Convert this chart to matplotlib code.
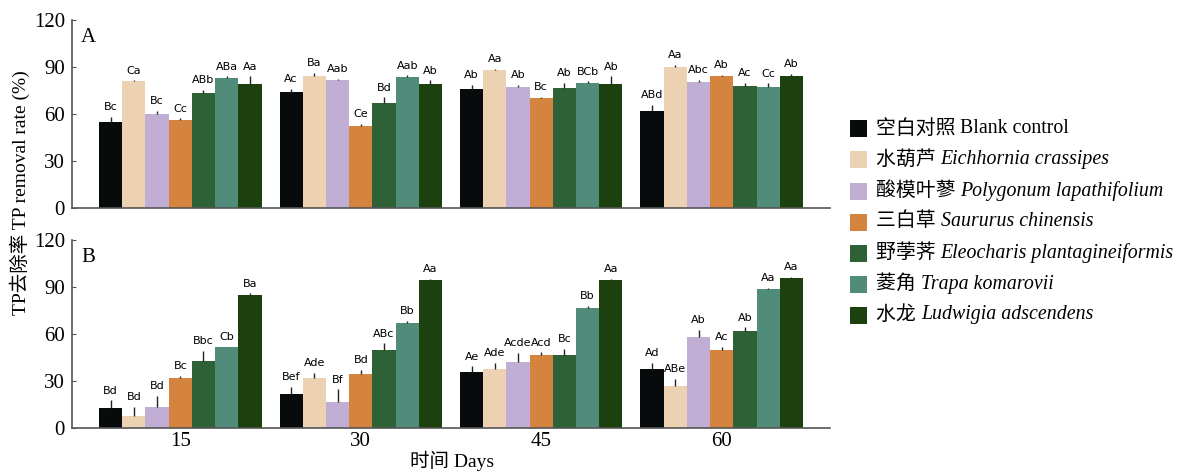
import numpy as np
import matplotlib
matplotlib.use("Agg")
import matplotlib.pyplot as plt
from matplotlib.patches import Rectangle

plt.rcParams['font.family'] = ['Liberation Serif', 'Noto Sans CJK SC', 'DejaVu Sans']

days = ["15", "30", "45", "60"]
cn_names = ["空白对照", "水葫芦", "酸模叶蓼", "三白草", "野荸荠", "菱角", "水龙"]
latin_names = ["Blank control", "Eichhornia crassipes", "Polygonum lapathifolium",
               "Saururus chinensis", "Eleocharis plantagineiformis", "Trapa komarovii",
               "Ludwigia adscendens"]
colors = ["#070b0c", "#ecd2b2", "#c0aed4", "#d4843e", "#2e6136", "#518b79", "#1d410e"]

# panel A: rows = treatments, columns = days
tp_a = [[55.2, 73.8, 76.1, 61.8],
        [80.9, 84.5, 87.9, 90.3],
        [59.9, 81.5, 77.4, 80.2],
        [56.3, 52.6, 70.4, 84.1],
        [73.4, 67.0, 76.8, 77.6],
        [83.0, 83.6, 79.6, 77.4],
        [79.4, 78.9, 79.4, 84.5]]
err_a = [[3.0, 2.4, 2.4, 3.9],
         [0.5, 1.7, 0.9, 0.9],
         [2.0, 1.0, 1.3, 1.7],
         [1.0, 1.0, 0.6, 0.9],
         [2.0, 3.6, 3.0, 2.1],
         [1.0, 1.0, 1.3, 2.1],
         [4.7, 2.6, 4.7, 1.3]]
lab_a = [["Bc", "Ac", "Ab", "ABd"],
         ["Ca", "Ba", "Aa", "Aa"],
         ["Bc", "Aab", "Ab", "Abc"],
         ["Cc", "Ce", "Bc", "Ab"],
         ["ABb", "Bd", "Ab", "Ac"],
         ["ABa", "Aab", "BCb", "Cc"],
         ["Aa", "Ab", "Ab", "Ab"]]

# panel B
tp_b = [[12.6, 21.9, 36.0, 37.9],
        [7.5, 32.1, 37.5, 26.6],
        [13.1, 16.3, 42.2, 58.3],
        [31.7, 34.3, 46.5, 49.7],
        [42.9, 49.7, 46.5, 61.7],
        [51.4, 66.9, 76.9, 88.7],
        [84.9, 94.7, 94.7, 96.0]]
err_b = [[5.1, 4.3, 3.4, 3.6],
         [5.8, 3.2, 4.3, 4.7],
         [7.3, 8.4, 5.8, 4.3],
         [1.7, 2.6, 1.7, 1.9],
         [6.2, 4.3, 4.1, 2.6],
         [0.6, 1.5, 0.9, 0.6],
         [1.0, 0.4, 0.6, 0.6]]
lab_b = [["Bd", "Bef", "Ae", "Ad"],
         ["Bd", "Ade", "Ade", "ABe"],
         ["Bd", "Bf", "Acde", "Ab"],
         ["Bc", "Bd", "Acd", "Ac"],
         ["Bbc", "ABc", "Bc", "Ab"],
         ["Cb", "Bb", "Bb", "Aa"],
         ["Ba", "Aa", "Aa", "Aa"]]

fig = plt.figure(figsize=(11.82, 4.71), dpi=100)
W, H = 1182, 471
ax_a = fig.add_axes([72 / W, 1 - 208 / H, (830 - 72) / W, 188 / H])
ax_b = fig.add_axes([72 / W, 1 - 428 / H, (830 - 72) / W, 188 / H])

x = np.arange(len(days))
width = 0.9 / 7


def draw_panel(ax, vals, errs, labels, tag, show_x):
    for i in range(7):
        pos = x + (i - 3) * width
        ax.bar(pos, vals[i], width, color=colors[i], edgecolor='none', zorder=2)
        ax.errorbar(pos, vals[i], yerr=[np.zeros(4), errs[i]], fmt='none',
                    ecolor='#222222', elinewidth=1.0, capsize=0, zorder=3)
        for j in range(4):
            ax.text(pos[j], vals[i][j] + errs[i][j] + 3.0, labels[i][j],
                    ha='center', va='bottom', fontsize=8, family='DejaVu Sans')
    ax.set_xlim(-0.6, 3.6)
    ax.set_ylim(0, 120)
    ax.set_yticks([0, 30, 60, 90, 120])
    ax.tick_params(axis='y', direction='in', length=3, labelsize=15, color='#555555', pad=5)
    ax.tick_params(axis='x', length=0, labelsize=15, pad=3)
    ax.set_xticks(x)
    if show_x:
        ax.set_xticklabels(days)
    else:
        ax.set_xticklabels([])
    for s in ['top', 'right']:
        ax.spines[s].set_visible(False)
    for s in ['left', 'bottom']:
        ax.spines[s].set_color('#555555')
        ax.spines[s].set_linewidth(1.2)
    ax.text(0.012, 0.96, tag, transform=ax.transAxes, ha='left', va='top', fontsize=15)


draw_panel(ax_a, tp_a, err_a, lab_a, "A", False)
draw_panel(ax_b, tp_b, err_b, lab_b, "B", True)

fig.text(20 / W, 1 - 193 / H, "TP去除率 TP removal rate (%)", rotation=90,
         ha='center', va='center', fontsize=14)
fig.text(452 / W, 1 - 461 / H, "时间 Days", ha='center', va='center', fontsize=14)

# legend drawn by hand so the Chinese and italic Latin parts can mix
renderer = fig.canvas.get_renderer()
row_y = 129
for k in range(7):
    yc = 1 - row_y / H
    fig.patches.append(Rectangle((850 / W, yc - 8.5 / H), 17 / W, 17 / H,
                                 transform=fig.transFigure, facecolor=colors[k],
                                 edgecolor='none'))
    t1 = fig.text(876 / W, yc, cn_names[k] + " ", ha='left', va='center', fontsize=14.3)
    bb = t1.get_window_extent(renderer)
    style = 'normal' if k == 0 else 'italic'
    fig.text(bb.x1 / W, yc, latin_names[k], ha='left', va='center',
             fontsize=14.3, style=style)
    row_y += 31

fig.savefig("out.png", dpi=100)
